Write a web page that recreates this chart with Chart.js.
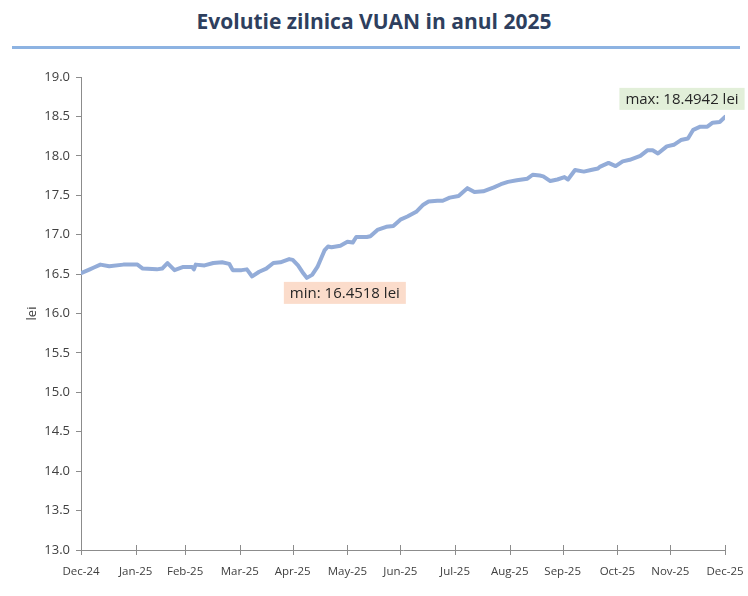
<!DOCTYPE html>
<html>
<head>
<meta charset="utf-8">
<script src="https://cdn.jsdelivr.net/npm/chart.js@4"></script>
<style>
  html, body { margin: 0; padding: 0; background: #fff; }
  #wrap { position: relative; width: 748px; height: 596px; overflow: hidden; }
  #title {
    position: absolute; left: 0; top: 7px; width: 748px; text-align: center;
    font: bold 21px "Open Sans", sans-serif; color: #2e3f5e;
  }
  #rule { position: absolute; left: 12px; top: 46px; width: 728px; height: 3px; background: #8db3e2; }
  #c { position: absolute; left: 0; top: 0; }
</style>
</head>
<body>
<div id="wrap">
  <div id="title">Evolutie zilnica VUAN in anul 2025</div>
  <div id="rule"></div>
  <canvas id="c" width="748" height="596"></canvas>
</div>
<script>
// days counted from 31 Dec 2024 (lei)
const dayIdx = [0, 5, 7, 11, 16, 24, 32, 35, 43, 46, 49, 53, 58, 63, 64, 65, 70, 75, 80, 84,
  86, 91, 94, 97, 101, 105, 109, 113, 118, 120, 123, 126, 128, 131, 134, 138, 140, 142, 147, 151,
  154, 156, 162, 164, 168, 173, 177, 181, 185, 190, 194, 197, 202, 205, 209, 214, 218, 219, 223, 228,
  234, 238, 242, 247, 253, 256, 260, 262, 266, 270, 274, 276, 280, 285, 289, 293, 294, 299, 303, 307,
  311, 317, 321, 324, 327, 332, 336, 340, 344, 347, 351, 355, 358, 362, 365];
const rates = [16.51, 16.56, 16.58, 16.62, 16.60, 16.62, 16.62, 16.57, 16.56, 16.57, 16.64, 16.55, 16.59, 16.59, 16.56, 16.62, 16.61, 16.64, 16.65, 16.63,
  16.55, 16.55, 16.56, 16.47, 16.53, 16.57, 16.64, 16.65, 16.69, 16.68, 16.61, 16.51, 16.4518, 16.49, 16.59, 16.80, 16.85, 16.84, 16.86, 16.91,
  16.90, 16.97, 16.97, 16.98, 17.06, 17.10, 17.11, 17.19, 17.23, 17.29, 17.38, 17.42, 17.43, 17.43, 17.47, 17.49, 17.57, 17.59, 17.54, 17.55,
  17.60, 17.64, 17.67, 17.69, 17.71, 17.76, 17.75, 17.74, 17.68, 17.70, 17.73, 17.70, 17.82, 17.80, 17.82, 17.84, 17.86, 17.91, 17.87, 17.93,
  17.95, 18.00, 18.07, 18.07, 18.03, 18.12, 18.14, 18.20, 18.22, 18.33, 18.37, 18.37, 18.42, 18.43, 18.4942];

const monthTicks = [0, 31, 59, 90, 120, 151, 181, 212, 243, 273, 304, 334, 365];
const monthLabels = ['Dec-24', 'Jan-25', 'Feb-25', 'Mar-25', 'Apr-25', 'May-25', 'Jun-25',
  'Jul-25', 'Aug-25', 'Sep-25', 'Oct-25', 'Nov-25', 'Dec-25'];

const minLabel = 'min: 16.4518 lei';
const maxLabel = 'max: 18.4942 lei';

const AXIS = '#8c8c8c';
const TEXT = '#404040';
const LINE = '#93acd8';

// boxed min / max callouts, anchored on the extreme points
const callouts = {
  id: 'callouts',
  afterDatasetsDraw(chart) {
    const { ctx, scales: { x, y } } = chart;
    let iMin = 0, iMax = 0;
    rates.forEach((v, i) => {
      if (v < rates[iMin]) iMin = i;
      if (v > rates[iMax]) iMax = i;
    });
    const boxes = [
      { i: iMin, text: minLabel, bg: '#fbdccb', dx: 38, dy: 15 },
      { i: iMax, text: maxLabel, bg: '#e2efd9', dx: -43, dy: -18 },
    ];
    ctx.save();
    ctx.font = '15px "Open Sans", sans-serif';
    ctx.textAlign = 'center';
    ctx.textBaseline = 'middle';
    boxes.forEach((b) => {
      const cx = x.getPixelForValue(dayIdx[b.i]) + b.dx;
      const cy = y.getPixelForValue(rates[b.i]) + b.dy;
      const w = ctx.measureText(b.text).width + 12;
      const h = 22;
      ctx.fillStyle = b.bg;
      ctx.fillRect(cx - w / 2, cy - h / 2, w, h);
      ctx.fillStyle = '#262626';
      ctx.fillText(b.text, cx, cy + 1);
    });
    ctx.restore();
  },
};

// Excel style "cross" tick marks on the date axis
const crossTicks = {
  id: 'crossTicks',
  afterDraw(chart) {
    const { ctx, scales: { x, y } } = chart;
    const base = y.bottom;
    ctx.save();
    ctx.strokeStyle = AXIS;
    ctx.lineWidth = 1;
    monthTicks.forEach((d) => {
      const px = Math.round(x.getPixelForValue(d)) + 0.5;
      ctx.beginPath();
      ctx.moveTo(px, base - 5);
      ctx.lineTo(px, base + 5);
      ctx.stroke();
    });
    ctx.restore();
  },
};

new Chart(document.getElementById('c'), {
  type: 'line',
  data: {
    datasets: [{
      data: dayIdx.map((d, i) => ({ x: d, y: rates[i] })),
      borderColor: LINE,
      borderWidth: 4,
      tension: 0,
      pointRadius: 0,
      fill: false,
      borderJoinStyle: 'round',
      borderCapStyle: 'round',
    }],
  },
  options: {
    responsive: false,
    animation: false,
    layout: { padding: { top: 77, right: 23, bottom: 14, left: 0 } },
    plugins: { legend: { display: false }, tooltip: { enabled: false } },
    scales: {
      x: {
        type: 'linear',
        min: 0, max: 365,
        afterBuildTicks: (s) => { s.ticks = monthTicks.map((v) => ({ value: v })); },
        afterFit: (s) => { s.height = 32; s.paddingLeft = 0; s.paddingRight = 0; },
        grid: { display: false, drawTicks: false },
        border: { color: AXIS, width: 1 },
        ticks: {
          color: TEXT,
          font: { family: 'Open Sans', size: 11.5 },
          padding: 15,
          maxRotation: 0,
          autoSkip: false,
          callback: (v) => monthLabels[monthTicks.indexOf(v)],
        },
      },
      y: {
        min: 13, max: 19,
        afterFit: (s) => { s.width = 81; },
        grid: { drawOnChartArea: false, tickLength: 5, color: AXIS },
        border: { color: AXIS, width: 1 },
        ticks: {
          stepSize: 0.5,
          color: TEXT,
          font: { family: 'Open Sans', size: 13 },
          padding: 6,
          callback: (v) => v.toFixed(1),
        },
        title: {
          display: true,
          text: 'lei',
          color: TEXT,
          font: { family: 'Open Sans', size: 13 },
          padding: { top: 24, bottom: 0 },
        },
      },
    },
  },
  plugins: [callouts, crossTicks],
});
</script>
</body>
</html>
